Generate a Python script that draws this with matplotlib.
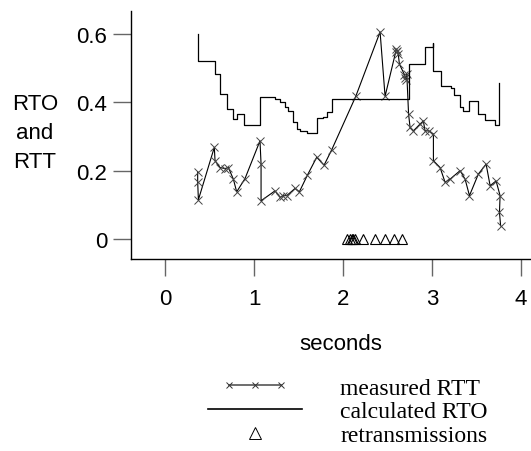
import numpy as np
import matplotlib
matplotlib.use("Agg")
import matplotlib.pyplot as plt
from matplotlib.lines import Line2D
from matplotlib.legend_handler import HandlerLine2D

### measured RTT samples (seconds, seconds)
rtt_t = [0.367, 0.367, 0.375, 0.554, 0.562, 0.618, 0.674, 0.712, 0.768, 0.805,
         0.899, 1.067, 1.079, 1.079, 1.236, 1.292, 1.330, 1.367, 1.461, 1.509,
         1.600, 1.704, 1.787, 1.873, 2.143, 2.416, 2.472, 2.590, 2.600, 2.610,
         2.620, 2.633, 2.690, 2.700, 2.710, 2.716, 2.736, 2.753, 2.790, 2.865,
         2.902, 2.921, 2.960, 3.015, 3.015, 3.090, 3.146, 3.202, 3.315, 3.371,
         3.420, 3.520, 3.607, 3.652, 3.719, 3.764, 3.757, 3.770]
rtt_v = [0.197, 0.167, 0.115, 0.268, 0.229, 0.209, 0.206, 0.209, 0.175, 0.138,
         0.177, 0.287, 0.219, 0.112, 0.141, 0.122, 0.127, 0.127, 0.148, 0.138,
         0.187, 0.239, 0.216, 0.261, 0.417, 0.605, 0.417, 0.545, 0.555, 0.550,
         0.540, 0.511, 0.480, 0.470, 0.465, 0.482, 0.365, 0.326, 0.316, 0.336,
         0.345, 0.316, 0.316, 0.307, 0.229, 0.209, 0.166, 0.175, 0.200, 0.175,
         0.127, 0.190, 0.219, 0.156, 0.170, 0.127, 0.078, 0.039]

### calculated RTO, step function (value holds until next time)
rto_t = [0.375, 0.375, 0.562, 0.618, 0.693, 0.768, 0.805, 0.888, 1.067, 1.236,
         1.292, 1.348, 1.386, 1.442, 1.479, 1.517, 1.592, 1.704, 1.779, 1.816,
         1.873, 2.745, 2.921, 3.007, 3.010, 3.097, 3.209, 3.247, 3.315, 3.352,
         3.420, 3.520, 3.596, 3.708, 3.757, 3.757]
rto_v = [0.598, 0.521, 0.482, 0.423, 0.380, 0.352, 0.365, 0.333, 0.414, 0.409,
         0.399, 0.387, 0.375, 0.341, 0.321, 0.316, 0.309, 0.355, 0.358, 0.370,
         0.409, 0.511, 0.560, 0.574, 0.491, 0.448, 0.440, 0.420, 0.387, 0.375,
         0.404, 0.365, 0.348, 0.333, 0.333, 0.457]

### retransmission times
retx_t = [2.04, 2.08, 2.10, 2.11, 2.13, 2.22, 2.36, 2.47, 2.57, 2.66]
retx_v = [0] * len(retx_t)

sans = ['Liberation Sans', 'DejaVu Sans']
serif = ['Liberation Serif', 'DejaVu Serif']

fig = plt.figure(figsize=(5.31, 4.52), dpi=100)
ax = fig.add_axes([131/531, 1 - 260/452, 399/531, 248/452])

ax.plot(rtt_t, rtt_v, color='black', lw=0.8, marker='x', ms=5.5,
        mec='#444444', mew=0.7, label='measured RTT')
ax.step(rto_t, rto_v, where='post', color='black', lw=0.9, label='calculated RTO')
ax.plot(retx_t, retx_v, ls='none', marker='^', ms=6.5, mfc='none',
        mec='black', mew=0.8, label='retransmissions')

ax.set_xlim(-0.382, 4.10)
ax.set_ylim(-0.058, 0.666)
ax.set_xticks([0, 1, 2, 3, 4])
ax.set_xticklabels(['0', '1', '2', '3', '4'])
ax.set_yticks([0, 0.2, 0.4, 0.6])
ax.set_yticklabels(['0', '0.2', '0.4', '0.6'])

for s in ['top', 'right']:
    ax.spines[s].set_visible(False)
for s in ['left', 'bottom']:
    ax.spines[s].set_linewidth(1.0)
ax.tick_params(axis='y', length=13, width=1, color='#666666', pad=4,
               labelsize=16)
ax.tick_params(axis='x', length=12, width=1, color='#666666', pad=9,
               labelsize=16)
for lab in ax.get_xticklabels() + ax.get_yticklabels():
    lab.set_family(sans)

ax.set_xlabel('seconds', family=sans, fontsize=16)
ax.xaxis.set_label_coords(0.526, -0.30)
ax.set_ylabel('RTO\nand\nRTT', family=sans, fontsize=16, rotation=0,
              ha='center', va='center', linespacing=1.5)
ax.yaxis.set_label_coords(-0.241, 0.512)

### legend below the plot
h_rtt = Line2D([], [], color='#555555', lw=1.2, marker='x', ms=5,
               mec='#333333', mew=0.7)
h_rto = Line2D([], [], color='black', lw=1.2)
h_ret = Line2D([], [], ls='none', marker='^', ms=8, mfc='none',
               mec='black', mew=0.7)
leg = fig.legend([h_rtt, h_rto, h_ret],
                 ['measured RTT', 'calculated RTO', 'retransmissions'],
                 loc='upper left', bbox_to_anchor=(208/531, 1 - 378/452),
                 frameon=False, borderpad=0, borderaxespad=0,
                 handlelength=4.0, handletextpad=1.6, labelspacing=0.1,
                 prop={'family': serif, 'size': 17},
                 handler_map={h_rtt: HandlerLine2D(numpoints=3, marker_pad=0.9),
                              h_ret: HandlerLine2D(numpoints=1)})

fig.savefig('out.png', dpi=100)
